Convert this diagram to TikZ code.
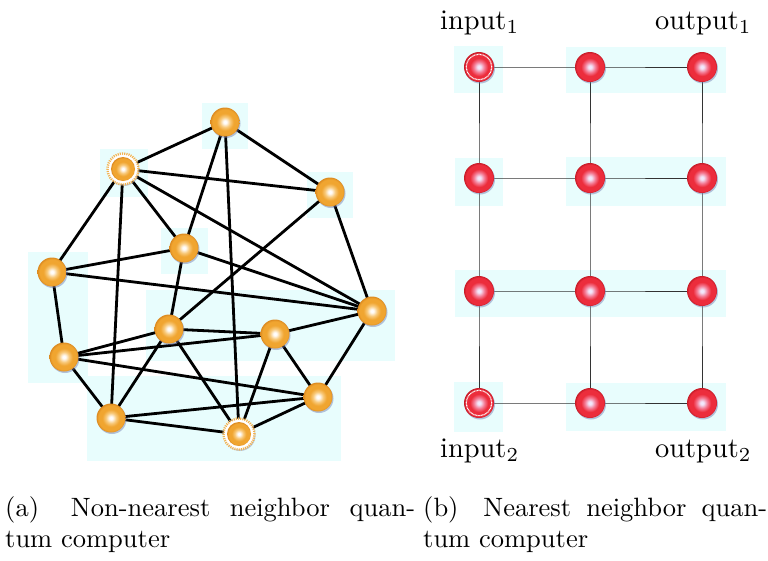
\documentclass[tikz,border=0pt]{standalone}
\usetikzlibrary{shadows}
\pgfdeclarelayer{bgA}\pgfdeclarelayer{bgB}\pgfsetlayers{bgA,bgB,main}
\definecolor{cyanbg}{RGB}{232,253,253}
\definecolor{orC}{RGB}{255,253,252}
\definecolor{orM}{RGB}{248,200,120}
\definecolor{orO}{RGB}{240,165,48}
\definecolor{orE}{RGB}{220,138,32}
\definecolor{rdC}{RGB}{242,232,252}
\definecolor{rdM}{RGB}{244,120,145}
\definecolor{rdO}{RGB}{236,45,60}
\definecolor{rdE}{RGB}{200,28,40}
\definecolor{shd}{RGB}{110,120,175}
\pgfdeclareradialshading{orball}{\pgfpoint{0bp}{0bp}}{color(0bp)=(orC); color(2.5bp)=(orC); color(9bp)=(orM); color(15bp)=(orO); color(22bp)=(orO); color(25bp)=(orE); color(50bp)=(orE)}
\pgfdeclareradialshading{rdball}{\pgfpoint{0bp}{0bp}}{color(0bp)=(rdC); color(2.5bp)=(rdC); color(9bp)=(rdM); color(15bp)=(rdO); color(22bp)=(rdO); color(25bp)=(rdE); color(50bp)=(rdE)}
\tikzset{
  panel/.style={fill=cyanbg, draw=none},
  orb/.style={circle, minimum size=29pt, inner sep=0, shading=orball,
    drop shadow={shadow xshift=1pt, shadow yshift=-1.5pt, fill=shd, opacity=0.45}},
  orbsmall/.style={circle, minimum size=24pt, inner sep=0, shading=orball},
  orsun/.style={circle, minimum size=31pt, inner sep=0, fill=white, draw=orO!85,
    line width=2.4pt, dash pattern=on 1.1pt off 1.1pt,
    drop shadow={shadow xshift=1pt, shadow yshift=-1.5pt, fill=shd, opacity=0.35}},
  rdb/.style={circle, minimum size=30pt, inner sep=0, shading=rdball,
    drop shadow={shadow xshift=1pt, shadow yshift=-1.5pt, fill=shd, opacity=0.45}},
  rdring/.style={circle, minimum size=25.5pt, inner sep=0, draw=white,
    line width=1.1pt, dash pattern=on 0.9pt off 0.6pt},
  thick edge/.style={line width=2.8pt, black},
  grid edge/.style={line width=0.8pt, black!80},
  lbl/.style={anchor=base west, inner sep=0},
}
\begin{document}
\begin{tikzpicture}[x=1pt, y=-1pt]
\useasboundingbox (0,0) rectangle (768,560);
% ---------- left graph nodes ----------
\node[orb] (A) at (225,122) {};
\node[orsun] (B) at (123,169) {};
\node[orbsmall] (Bi) at (B) {};
\node[orb] (C) at (330,192) {};
\node[orb] (D) at (184,248) {};
\node[orb] (E) at (52,272) {};
\node[orb] (F) at (372,311) {};
\node[orb] (G) at (169,329) {};
\node[orb] (H) at (275,334) {};
\node[orb] (I) at (64,357) {};
\node[orb] (J) at (318,397) {};
\node[orb] (K) at (111,418) {};
\node[orsun] (L) at (239,434) {};
\node[orbsmall] (Li) at (L) {};
% ---------- right grid nodes ----------
\foreach \c/\x in {1/479,2/590,3/702}{
  \foreach \r/\y in {1/67,2/178,3/291,4/403}{
    \node[rdb] (n\r\c) at (\x,\y) {};
  }
}
\node[rdring] (ring1) at (n11) {};
\node[rdring] (ring4) at (n41) {};
% ---------- panels ----------
\begin{pgfonlayer}{bgA}
\fill[panel] (202,103) rectangle (248,149);
\fill[panel] (100,149) rectangle (148,197);
\fill[panel] (307,172) rectangle (353,218);
\fill[panel] (161,228) rectangle (208,274);
\fill[panel] (28,252) rectangle (88,383);
\fill[panel] (146,290) rectangle (395,361);
\fill[panel] (87,376) rectangle (341,461);
\fill[panel] (454,46) rectangle (503,93);
\fill[panel] (566,47) rectangle (726,93);
\fill[panel] (455,158) rectangle (503,206);
\fill[panel] (566,157) rectangle (726,206);
\fill[panel] (455,270) rectangle (726,317);
\fill[panel] (454,382) rectangle (503,432);
\fill[panel] (566,383) rectangle (726,431);
\end{pgfonlayer}
% ---------- edges ----------
\begin{pgfonlayer}{bgB}
\foreach \u/\v in {A/B,A/C,A/D,A/L,B/C,B/E,B/K,B/D,B/F,C/G,C/F,D/E,D/F,D/G,E/F,E/I,
  F/H,F/J,G/H,G/I,G/K,G/L,H/I,H/L,H/J,I/K,I/J,K/J,K/L,L/J}{
  \draw[thick edge] (\u.center) -- (\v.center);
}
\foreach \r in {1,2,3,4}{
  \draw[grid edge] (n\r1.center) -- (n\r2.center) -- (n\r3.center);
}
\foreach \c in {1,2,3}{
  \draw[grid edge] (n1\c.center) -- (n2\c.center) -- (n3\c.center) -- (n4\c.center);
}
\end{pgfonlayer}
% ---------- labels ----------
\node[lbl] (in1) at (440,29) {\scalebox{2.84}{input$_1$}};
\node[lbl] (out1) at (655,29) {\scalebox{2.84}{output$_1$}};
\node[lbl] (in2) at (440,457) {\scalebox{2.84}{input$_2$}};
\node[lbl] (out2) at (655,457) {\scalebox{2.84}{output$_2$}};
% ---------- captions ----------
\node[lbl] (capa1) at (5,516) {\scalebox{2.65}{\hbox to 154.7pt{(a)\hskip 8pt plus 1fill Non-nearest\hskip 3.33pt plus 1fill neighbor\hskip 3.33pt plus 1fill quan-}}};
\node[lbl] (capa2) at (5,547) {\scalebox{2.65}{tum computer}};
\node[lbl] (capb1) at (423,516) {\scalebox{2.65}{\hbox to 129.8pt{(b)\hskip 7pt plus 1fill Nearest\hskip 3.33pt plus 1fill neighbor\hskip 3.33pt plus 1fill quan-}}};
\node[lbl] (capb2) at (423,547) {\scalebox{2.65}{tum computer}};
\end{tikzpicture}
\end{document}
